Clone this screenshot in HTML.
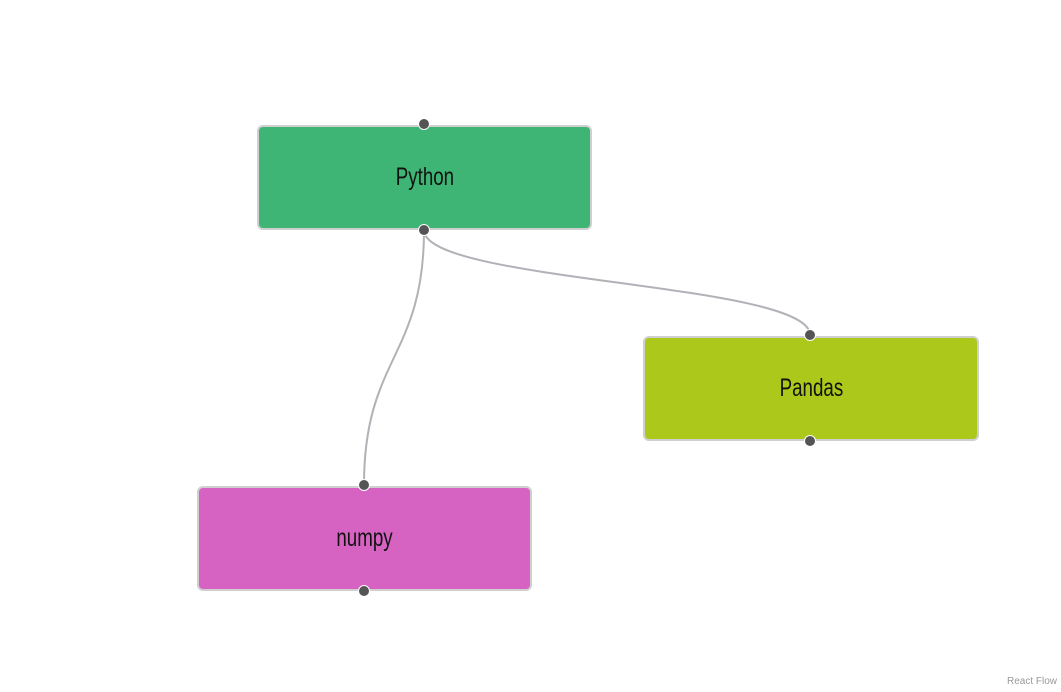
<!DOCTYPE html>
<html><head><style>
body{margin:0;width:1061px;height:692px;background:#fff;position:relative;overflow:hidden;font-family:"Liberation Sans Narrow","Liberation Sans",sans-serif}
.n{position:absolute;box-sizing:border-box;border:2px solid #cfcfcf;border-radius:6px;display:flex;align-items:center;justify-content:center;font-size:25px;color:#111;transform:scaleX(0.8)}
.h{position:absolute;width:12px;height:12px;border-radius:50%;background:#555;border:1px solid #fff;box-sizing:border-box;margin:-6px 0 0 -6px}
.t{display:inline-block;transform:scaleX(0.75)}
</style></head><body>
<svg width="1061" height="692" style="position:absolute;left:0;top:0">
<path d="M424,230 C424,357.5 364,357.5 364,485" fill="none" stroke="#b1b1b7" stroke-width="2"/>
<path d="M424,230 C424,282.5 810,282.5 810,335" fill="none" stroke="#b1b1b7" stroke-width="2"/>
</svg>
<div class="n" style="left:257px;top:125px;width:335px;height:105px;background:#3eb574;transform:none"><span class="t">Python</span></div>
<div class="n" style="left:643px;top:336px;width:336px;height:105px;background:#acc81a;transform:none"><span class="t">Pandas</span></div>
<div class="n" style="left:197px;top:486px;width:335px;height:105px;background:#d662c2;transform:none"><span class="t">numpy</span></div>
<div class="h" style="left:424px;top:124px"></div>
<div class="h" style="left:424px;top:230px"></div>
<div class="h" style="left:810px;top:335px"></div>
<div class="h" style="left:810px;top:441px"></div>
<div class="h" style="left:364px;top:485px"></div>
<div class="h" style="left:364px;top:591px"></div>
<div style="position:absolute;right:4px;bottom:5px;font-size:10px;color:#999">React Flow</div>
</body></html>
